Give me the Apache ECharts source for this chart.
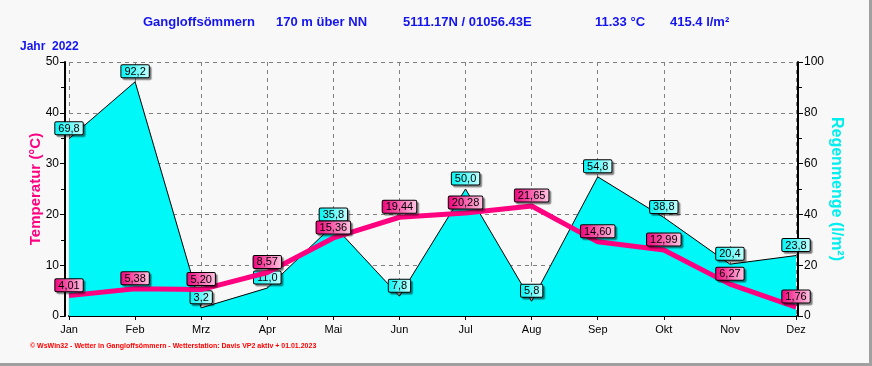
<!DOCTYPE html>
<html>
<head>
<meta charset="utf-8">
<script src="https://cdn.jsdelivr.net/npm/echarts@6/dist/echarts.min.js"></script>
<style>
html,body{margin:0;padding:0;background:#f8f8f8;}
#c{width:872px;height:366px;box-sizing:border-box;border-right:3px solid #a0a0a0;border-bottom:3px solid #a0a0a0;background:#f8f8f8;}
</style>
</head>
<body>
<div id="c"></div>
<script>
var months = ['Jan','Feb','Mrz','Apr','Mai','Jun','Jul','Aug','Sep','Okt','Nov','Dez'];
var temperature = [4.01, 5.38, 5.20, 8.57, 15.36, 19.44, 20.28, 21.65, 14.60, 12.99, 6.27, 1.76];
var rain = [69.8, 92.2, 3.2, 11.0, 35.8, 7.8, 50.0, 5.8, 54.8, 38.8, 20.4, 23.8];
var tempTicks = [0, 10, 20, 30, 40, 50];
var rainTicks = [0, 20, 40, 60, 80, 100];
var titleParts = [
  {text: 'Gangloffsömmern', left: 143},
  {text: '170 m über NN', left: 276},
  {text: '5111.17N / 01056.43E', left: 403},
  {text: '11.33 °C', left: 595},
  {text: '415.4 l/m²', left: 670}
];

var chart = echarts.init(document.getElementById('c'));
var blue = '#1414f0';
var titles = titleParts.map(function (p) {
  return {text: p.text, left: p.left, top: 16, padding: 0,
    textStyle: {color: blue, fontSize: 13, fontWeight: 'bold', fontFamily: 'Liberation Sans'}};
});
titles.push({text: 'Jahr  2022', left: 20, top: 41, padding: 0,
  textStyle: {color: blue, fontSize: 12, fontWeight: 'bold', fontFamily: 'Liberation Sans'}});
titles.push({text: '© WsWin32 - Wetter in Gangloffsömmern - Wetterstation: Davis VP2 aktiv + 01.01.2023', left: 30, top: 343, padding: 0,
  textStyle: {color: '#ff0000', fontSize: 7, fontWeight: 'bold', fontFamily: 'Liberation Sans'}});

function labelBox(colA, colB) {
  return {
    show: true, position: 'top', distance: 4,
    fontSize: 11, fontFamily: 'Liberation Sans', color: '#000',
    padding: [1, 3, 0, 3], lineHeight: 11,
    borderColor: '#000', borderWidth: 1, borderRadius: 1,
    backgroundColor: {type: 'linear', x: 0, y: 0, x2: 1, y2: 0,
      colorStops: [{offset: 0, color: colA}, {offset: 1, color: colB}]},
    shadowColor: 'rgba(0,0,0,0.35)', shadowOffsetX: 2, shadowOffsetY: 2, shadowBlur: 1
  };
}

var rainLabel = labelBox('#00f4f4', '#c8ffff');
rainLabel.formatter = function (p) { return p.value.toFixed(1).replace('.', ','); };
var tempLabel = labelBox('#f0007a', '#ffc8e4');
tempLabel.formatter = function (p) { return p.value.toFixed(2).replace('.', ','); };

chart.setOption({
  backgroundColor: '#f8f8f8',
  animation: false,
  title: titles,
  grid: {left: 69, right: 73, top: 62, bottom: 47},
  xAxis: [{
    type: 'category', data: months, boundaryGap: false,
    axisLine: {lineStyle: {color: '#000', width: 2}},
    axisTick: {show: true, length: 4, lineStyle: {color: '#000'}},
    axisLabel: {color: '#000', fontSize: 11, fontFamily: 'Liberation Sans', margin: 8},
    splitLine: {show: true, lineStyle: {color: '#808080', type: [4, 4], width: 1}}
  }, {
    type: 'category', data: months, boundaryGap: false, position: 'top',
    axisLine: {show: true, lineStyle: {color: '#000', width: 1}},
    axisTick: {show: false}, axisLabel: {show: false}, splitLine: {show: false}
  }],
  yAxis: [
    {
      type: 'value', min: tempTicks[0], max: tempTicks[tempTicks.length - 1], interval: 10, offset: 4,
      name: 'Temperatur (°C)', nameLocation: 'middle', nameGap: 22, nameRotate: 90, nameMoveOverlap: false,
      nameTextStyle: {color: '#ff0080', fontSize: 15, fontWeight: 'bold', fontFamily: 'Liberation Sans'},
      axisLine: {show: true, lineStyle: {color: '#000', width: 2}},
      axisTick: {show: true, length: 5, lineStyle: {color: '#000'}},
      minorTick: {show: true, splitNumber: 2, length: 4, lineStyle: {color: '#000'}},
      axisLabel: {color: '#000', fontSize: 12, fontFamily: 'Liberation Sans', margin: 6},
      splitLine: {show: true, lineStyle: {color: '#808080', type: [4, 4], width: 1}}
    },
    {
      type: 'value', min: rainTicks[0], max: rainTicks[rainTicks.length - 1], interval: 20, offset: 2,
      name: 'Regenmenge (l/m²)', nameLocation: 'middle', nameGap: 30, nameRotate: -90, nameMoveOverlap: false,
      nameTextStyle: {color: '#00eeee', fontSize: 16, fontWeight: 'bold', fontFamily: 'Liberation Sans'},
      axisLine: {show: true, lineStyle: {color: '#000', width: 2}},
      axisTick: {show: true, length: 5, lineStyle: {color: '#000'}},
      minorTick: {show: true, splitNumber: 2, length: 4, lineStyle: {color: '#000'}},
      axisLabel: {color: '#000', fontSize: 12, fontFamily: 'Liberation Sans', margin: 6},
      splitLine: {show: false}
    }
  ],
  series: [
    {
      name: 'Regenmenge', type: 'line', yAxisIndex: 1, data: rain, z: 2,
      symbol: 'circle', symbolSize: 1, showSymbol: true,
      itemStyle: {color: 'rgba(0,0,0,0)'},
      lineStyle: {color: '#000', width: 1},
      areaStyle: {color: '#00f8f8', opacity: 1},
      label: rainLabel
    },
    {
      name: 'Temperatur', type: 'line', yAxisIndex: 0, data: temperature, z: 3,
      symbol: 'circle', symbolSize: 1, showSymbol: true,
      itemStyle: {color: 'rgba(0,0,0,0)'},
      lineStyle: {color: '#ff0080', width: 5},
      label: tempLabel
    }
  ]
});
</script>
</body>
</html>
